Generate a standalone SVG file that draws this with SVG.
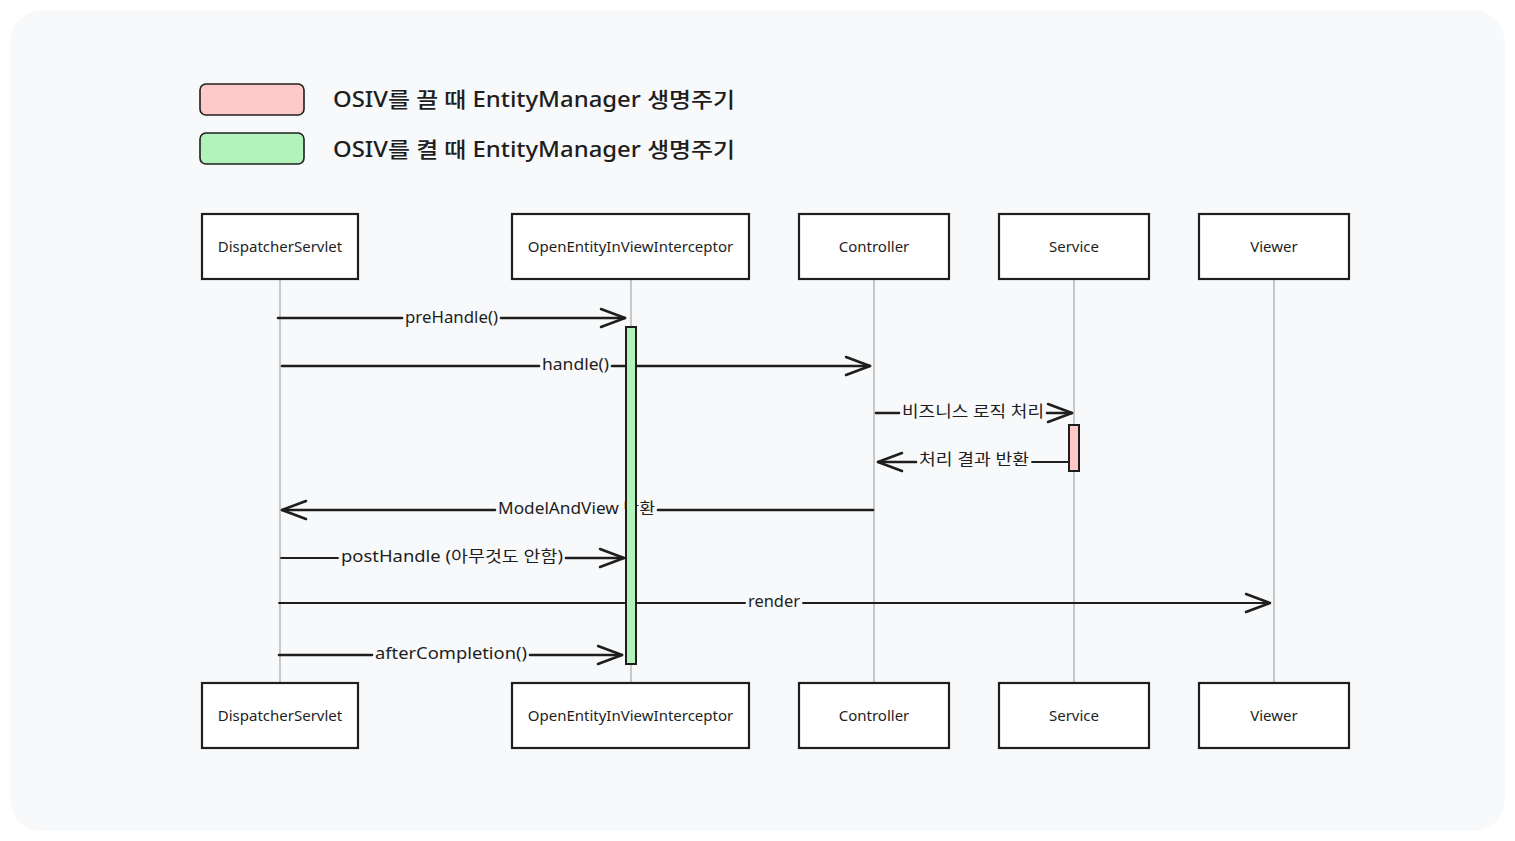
<svg xmlns="http://www.w3.org/2000/svg" width="1515" height="841" viewBox="0 0 1515 841">
<defs>
<style>
.bg{fill:#f8f9fa}
.box{fill:#ffffff;stroke:#1e1e1e;stroke-width:2.2}
.life{stroke:#a0a0a0;stroke-width:1.1;fill:none}
.msg{stroke:#1e1e1e;stroke-width:2.6;fill:none;stroke-linecap:round}
.lbl{font-family:"Noto Sans","Noto Sans CJK KR",sans-serif;font-size:16px;fill:#1e1e1e;text-anchor:middle;dominant-baseline:central}
.name{font-family:"Noto Sans","Noto Sans CJK KR",sans-serif;font-size:15px;fill:#1e1e1e;text-anchor:middle;dominant-baseline:central}
.legend{font-family:"Noto Sans","Noto Sans CJK KR",sans-serif;font-size:21px;font-weight:500;fill:#1e1e1e;dominant-baseline:central}
.act{stroke:#1e1e1e;stroke-width:2}
</style>
<marker id="ah" markerUnits="userSpaceOnUse" markerWidth="40" markerHeight="40" viewBox="-30 -15 40 30" refX="0" refY="0" orient="auto" overflow="visible">
<path d="M-24,-9 L0,0 L-24,9" fill="none" stroke="#1e1e1e" stroke-width="2.5" stroke-linecap="round" stroke-linejoin="round"/>
</marker>
</defs>
<rect class="bg" x="10" y="10" width="1495" height="821" rx="32"/>

<g id="legend">
<rect x="200" y="84" width="104" height="31" rx="6" fill="#ffc9c9" stroke="#1e1e1e" stroke-width="1.6"/>
<text class="legend" x="333" y="99" textLength="402" lengthAdjust="spacingAndGlyphs">OSIV를 끌 때 EntityManager 생명주기</text>
<rect x="200" y="133" width="104" height="31" rx="6" fill="#b2f2bb" stroke="#1e1e1e" stroke-width="1.6"/>
<text class="legend" x="333" y="149" textLength="402" lengthAdjust="spacingAndGlyphs">OSIV를 켤 때 EntityManager 생명주기</text>
</g>

<g id="lifelines">
<line class="life" x1="280" y1="279" x2="280" y2="683"/>
<line class="life" x1="631" y1="279" x2="631" y2="683"/>
<line class="life" x1="874" y1="279" x2="874" y2="683"/>
<line class="life" x1="1074" y1="279" x2="1074" y2="683"/>
<line class="life" x1="1274" y1="279" x2="1274" y2="683"/>
</g>

<g id="node-dispatcher-top"><rect class="box" x="202" y="214" width="156" height="65"/><text class="name" x="280" y="246">DispatcherServlet</text></g>
<g id="node-interceptor-top"><rect class="box" x="512" y="214" width="237" height="65"/><text class="name" x="630.5" y="246">OpenEntityInViewInterceptor</text></g>
<g id="node-controller-top"><rect class="box" x="799" y="214" width="150" height="65"/><text class="name" x="874" y="246">Controller</text></g>
<g id="node-service-top"><rect class="box" x="999" y="214" width="150" height="65"/><text class="name" x="1074" y="246">Service</text></g>
<g id="node-viewer-top"><rect class="box" x="1199" y="214" width="150" height="65"/><text class="name" x="1274" y="246">Viewer</text></g>

<g id="node-dispatcher-bottom"><rect class="box" x="202" y="683" width="156" height="65"/><text class="name" x="280" y="715">DispatcherServlet</text></g>
<g id="node-interceptor-bottom"><rect class="box" x="512" y="683" width="237" height="65"/><text class="name" x="630.5" y="715">OpenEntityInViewInterceptor</text></g>
<g id="node-controller-bottom"><rect class="box" x="799" y="683" width="150" height="65"/><text class="name" x="874" y="715">Controller</text></g>
<g id="node-service-bottom"><rect class="box" x="999" y="683" width="150" height="65"/><text class="name" x="1074" y="715">Service</text></g>
<g id="node-viewer-bottom"><rect class="box" x="1199" y="683" width="150" height="65"/><text class="name" x="1274" y="715">Viewer</text></g>

<g id="connectors">
<path class="msg" d="M278,318 H402"/><path class="msg" d="M501,318 H625" marker-end="url(#ah)"/>
<text class="lbl" x="451.5" y="317" textLength="93" lengthAdjust="spacingAndGlyphs">preHandle()</text>

<path class="msg" d="M282,366 H539"/><path class="msg" d="M612,366 H870" marker-end="url(#ah)"/>
<text class="lbl" x="575.5" y="364" textLength="67" lengthAdjust="spacingAndGlyphs">handle()</text>

<path class="msg" d="M876,413 H899"/><path class="msg" d="M1047,413 H1072" marker-end="url(#ah)"/>
<text class="lbl" x="973" y="411" textLength="142" lengthAdjust="spacingAndGlyphs">비즈니스 로직 처리</text>

<path class="msg" d="M1068,462 H1032" style="stroke-width:1.8"/><path class="msg" d="M916,462 H878" marker-end="url(#ah)"/>
<text class="lbl" x="974" y="459" textLength="110" lengthAdjust="spacingAndGlyphs">처리 결과 반환</text>

<path class="msg" d="M873,510 H658"/><path class="msg" d="M495,510 H282" marker-end="url(#ah)"/>
<text class="lbl" x="576.5" y="508" textLength="157" lengthAdjust="spacingAndGlyphs">ModelAndView 반환</text>

<path class="msg" d="M281,558 H338" style="stroke-width:1.8"/><path class="msg" d="M566,558 H624" marker-end="url(#ah)"/>
<text class="lbl" x="452" y="556" textLength="222" lengthAdjust="spacingAndGlyphs">postHandle (아무것도 안함)</text>

<path class="msg" d="M279,603 H745" style="stroke-width:2"/><path class="msg" d="M803,603 H1270" style="stroke-width:2" marker-end="url(#ah)"/>
<text class="lbl" x="774" y="601" textLength="52" lengthAdjust="spacingAndGlyphs">render</text>

<path class="msg" d="M279,655 H372"/><path class="msg" d="M530,655 H622" marker-end="url(#ah)"/>
<text class="lbl" x="451" y="653" textLength="152" lengthAdjust="spacingAndGlyphs">afterCompletion()</text>
</g>

<g id="activation-interceptor"><rect class="act" x="626" y="327" width="10" height="337" fill="#b2f2bb"/></g>
<g id="activation-service"><rect class="act" x="1069" y="425" width="10" height="46" fill="#ffc9c9"/></g>
</svg>
